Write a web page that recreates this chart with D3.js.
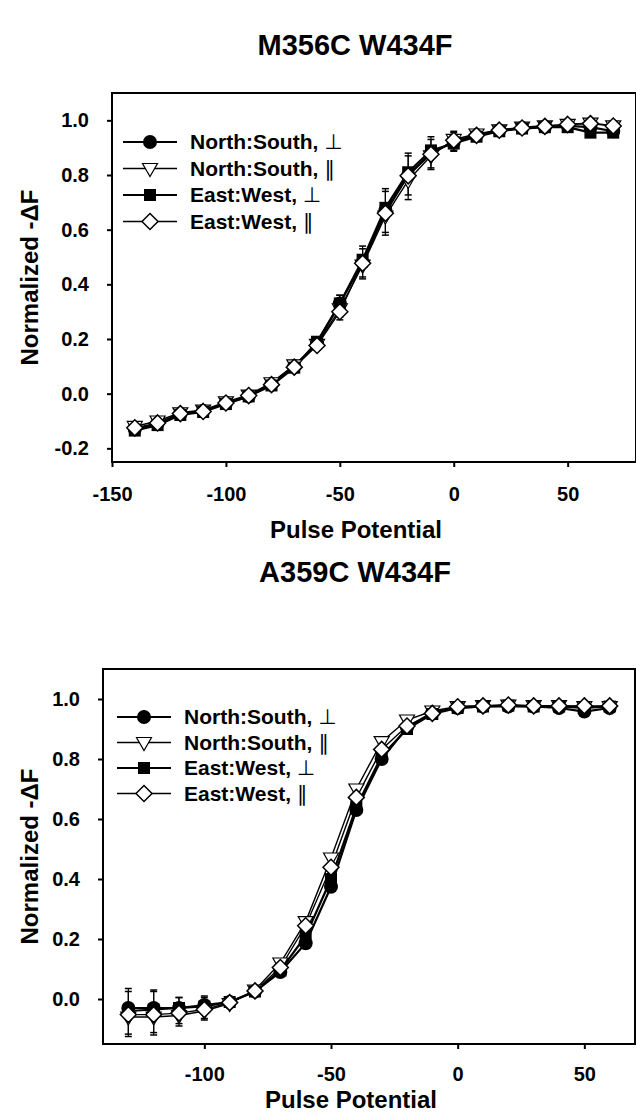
<!DOCTYPE html>
<html>
<head>
<meta charset="utf-8">
<script src="https://cdn.jsdelivr.net/npm/d3@7"></script>
<style>
  body { margin: 0; background: #fff; }
  text { font-family: "Liberation Sans", Arial, sans-serif; font-weight: bold; fill: #000; }
</style>
</head>
<body>
<div id="chart"></div>
<script>
// ---- data: top panel (M356C W434F)
var potTop = [-140, -130, -120, -110, -100, -90, -80, -70, -60, -50, -40, -30, -20, -10, 0, 10, 20, 30, 40, 50, 60, 70];
var nsPerpTop = [-0.13, -0.11, -0.075, -0.063, -0.035, -0.01, 0.035, 0.10, 0.185, 0.33, 0.48, 0.67, 0.80, 0.88, 0.92, 0.945, 0.963, 0.972, 0.975, 0.98, 0.975, 0.96];
var nsParTop = [-0.12, -0.10, -0.07, -0.06, -0.03, -0.005, 0.04, 0.105, 0.18, 0.31, 0.47, 0.65, 0.78, 0.87, 0.93, 0.95, 0.965, 0.975, 0.98, 0.985, 0.99, 0.98];
var ewPerpTop = [-0.135, -0.115, -0.078, -0.067, -0.038, -0.01, 0.03, 0.095, 0.19, 0.33, 0.49, 0.68, 0.81, 0.89, 0.915, 0.94, 0.96, 0.97, 0.975, 0.975, 0.955, 0.955];
var ewParTop = [-0.125, -0.107, -0.073, -0.065, -0.034, -0.007, 0.033, 0.097, 0.176, 0.30, 0.477, 0.66, 0.797, 0.876, 0.927, 0.945, 0.964, 0.972, 0.978, 0.985, 0.988, 0.979];
var errTop = [0.02, 0.025, 0.01, 0.01, 0.012, 0.01, 0.015, 0.015, 0.015, 0.03, 0.05, 0.07, 0.07, 0.05, 0.04, 0.02, 0.012, 0.01, 0.01, 0.01, 0.012, 0.012];

// ---- data: bottom panel (A359C W434F)
var potBot = [-130, -120, -110, -100, -90, -80, -70, -60, -50, -40, -30, -20, -10, 0, 10, 20, 30, 40, 50, 60];
var nsPerpBot = [-0.03, -0.03, -0.03, -0.02, -0.01, 0.025, 0.09, 0.186, 0.374, 0.63, 0.80, 0.905, 0.955, 0.97, 0.975, 0.975, 0.975, 0.97, 0.958, 0.97];
var nsParBot = [-0.06, -0.06, -0.055, -0.04, -0.015, 0.03, 0.12, 0.258, 0.47, 0.70, 0.858, 0.93, 0.96, 0.975, 0.978, 0.98, 0.978, 0.978, 0.975, 0.975];
var ewPerpBot = [-0.04, -0.035, -0.03, -0.025, -0.01, 0.025, 0.095, 0.21, 0.40, 0.64, 0.81, 0.90, 0.95, 0.97, 0.975, 0.978, 0.975, 0.975, 0.97, 0.975];
var ewParBot = [-0.052, -0.052, -0.047, -0.035, -0.012, 0.027, 0.105, 0.244, 0.439, 0.672, 0.832, 0.91, 0.952, 0.974, 0.977, 0.98, 0.977, 0.977, 0.977, 0.977];
var errBot = [0.065, 0.06, 0.035, 0.03, 0.015, 0.015, 0.03, 0.04, 0.04, 0.03, 0.02, 0.015, 0.01, 0.01, 0.01, 0.01, 0.01, 0.01, 0.01, 0.01];

var legendNames = ["North:South, ", "North:South, ", "East:West, ", "East:West, "];
var legendSymbols = ["\u22A5", "\u2225", "\u22A5", "\u2225"];
var markerKinds = ["circle", "triangle", "square", "diamond"];

var yTicks = [-0.2, 0.0, 0.2, 0.4, 0.6, 0.8, 1.0];
var xTicks = [-150, -100, -50, 0, 50];

var svg = d3.select("#chart").append("svg")
    .attr("width", 636)
    .attr("height", 1116);

function marker(g, kind, cx, cy) {
  if (kind == "circle") {
    g.append("circle").attr("cx", cx).attr("cy", cy).attr("r", 7)
      .attr("fill", "#000");
  } else if (kind == "triangle") {
    g.append("path")
      .attr("d", "M" + (cx - 7.5) + "," + (cy - 5) + "L" + (cx + 7.5) + "," + (cy - 5) + "L" + cx + "," + (cy + 8) + "Z")
      .attr("fill", "#fff").attr("stroke", "#000").attr("stroke-width", 1.2);
  } else if (kind == "square") {
    g.append("rect").attr("x", cx - 6).attr("y", cy - 6).attr("width", 12).attr("height", 12)
      .attr("fill", "#000");
  } else {
    g.append("path")
      .attr("d", "M" + cx + "," + (cy - 8) + "L" + (cx + 8) + "," + cy + "L" + cx + "," + (cy + 8) + "L" + (cx - 8) + "," + cy + "Z")
      .attr("fill", "#fff").attr("stroke", "#000").attr("stroke-width", 1.5);
  }
}

// plain hyphen for negative tick labels, like the original figure
function hyphen(f) {
  return function (d) { return f(d).replace("\u2212", "-"); };
}

function drawPanel(p) {
  var x = d3.scaleLinear().domain(p.xDomain).range([p.left, p.right]);
  var y = d3.scaleLinear().domain(p.yDomain).range([p.bottom, p.top]);
  var g = svg.append("g");

  // title
  g.append("text")
    .attr("x", p.titleX).attr("y", p.titleY)
    .attr("text-anchor", "middle")
    .style("font-size", "29px")
    .text(p.title);

  // frame
  g.append("rect")
    .attr("x", p.left).attr("y", p.top)
    .attr("width", p.right - p.left).attr("height", p.bottom - p.top)
    .attr("fill", "none").attr("stroke", "#000").attr("stroke-width", 2);

  // axes
  var ax = g.append("g")
    .attr("transform", "translate(0," + p.bottom + ")")
    .call(d3.axisBottom(x).tickValues(p.xTicks).tickSize(5).tickPadding(p.xPad).tickFormat(hyphen(d3.format("d"))));
  var ay = g.append("g")
    .attr("transform", "translate(" + p.left + ",0)")
    .call(d3.axisLeft(y).tickValues(p.yTicks).tickSize(5).tickPadding(18).tickFormat(hyphen(d3.format(".1f"))));
  [ax, ay].forEach(function (a) {
    a.select(".domain").remove();
    a.selectAll("line").attr("stroke", "#000").attr("stroke-width", 2);
    a.selectAll("text").style("font-size", "20px").style("font-family", "Liberation Sans, Arial, sans-serif").style("font-weight", "bold");
  });
  ax.selectAll("text").attr("dy", "0.71em");

  g.append("text")
    .attr("x", (p.left + p.right) / 2 - 18).attr("y", p.bottom + p.xLabelOff)
    .attr("text-anchor", "middle")
    .style("font-size", "24px")
    .text("Pulse Potential");

  g.append("text")
    .attr("transform", "translate(38," + ((p.top + p.bottom) / 2) + ") rotate(-90)")
    .attr("text-anchor", "middle")
    .style("font-size", "24px")
    .text("Normalized -\u0394F");

  // series: error bars, lines, markers
  var line = d3.line()
    .x(function (d) { return x(d.v); })
    .y(function (d) { return y(d.f); });

  p.series.forEach(function (s, i) {
    var pts = p.pot.map(function (v, j) { return {v: v, f: s[j], e: p.err[j]}; });
    var eg = g.append("g");
    pts.forEach(function (d) {
      var up = (i % 2 == 0) ? 1 : -1;
      eg.append("line")
        .attr("x1", x(d.v)).attr("x2", x(d.v))
        .attr("y1", y(d.f)).attr("y2", y(d.f + up * d.e))
        .attr("stroke", "#000").attr("stroke-width", 1.2);
      eg.append("line")
        .attr("x1", x(d.v) - 3.5).attr("x2", x(d.v) + 3.5)
        .attr("y1", y(d.f + up * d.e)).attr("y2", y(d.f + up * d.e))
        .attr("stroke", "#000").attr("stroke-width", 1.5);
    });
    g.append("path")
      .datum(pts)
      .attr("fill", "none")
      .attr("stroke", "#000")
      .attr("stroke-width", i % 2 == 0 ? 2.2 : 1.4)
      .attr("d", line);
  });
  p.series.forEach(function (s, i) {
    var mg = g.append("g");
    p.pot.forEach(function (v, j) { marker(mg, markerKinds[i], x(v), y(s[j])); });
  });

  // legend
  legendNames.forEach(function (name, i) {
    var ly = p.legY + i * p.legStep;
    g.append("line")
      .attr("x1", p.legX).attr("x2", p.legX + 54)
      .attr("y1", ly).attr("y2", ly)
      .attr("stroke", "#000").attr("stroke-width", i % 2 == 0 ? 2 : 1.4);
    marker(g, markerKinds[i], p.legX + 27, ly);
    var t = g.append("text")
      .attr("x", p.legX + 67).attr("y", ly + 7)
      .style("font-size", "21px");
    t.append("tspan").text(name);
    t.append("tspan")
      .style("font-family", "DejaVu Sans")
      .style("font-weight", "normal")
      .text(legendSymbols[i]);
  });
}

drawPanel({
  title: "M356C W434F", titleX: 355, titleY: 55,
  left: 112, right: 636, top: 93, bottom: 462,
  xDomain: [-150, 80], yDomain: [-0.25, 1.1],
  xTicks: xTicks, yTicks: yTicks, xPad: 20, xLabelOff: 76,
  pot: potTop, err: errTop,
  series: [nsPerpTop, nsParTop, ewPerpTop, ewParTop],
  legX: 123, legY: 142, legStep: 26.5
});

drawPanel({
  title: "A359C W434F", titleX: 355, titleY: 582,
  left: 103, right: 635, top: 669, bottom: 1044,
  xDomain: [-140, 70], yDomain: [-0.15, 1.1],
  xTicks: xTicks.slice(1), yTicks: yTicks.slice(1), xPad: 18, xLabelOff: 64,
  pot: potBot, err: errBot,
  series: [nsPerpBot, nsParBot, ewPerpBot, ewParBot],
  legX: 117, legY: 717, legStep: 25.5
});
</script>
</body>
</html>
